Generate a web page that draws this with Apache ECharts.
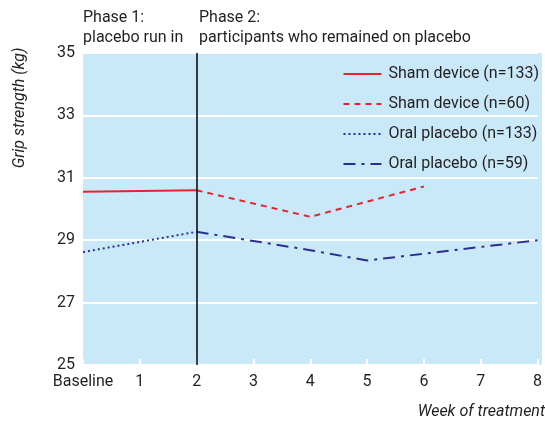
<!DOCTYPE html>
<html>
<head>
<meta charset="utf-8">
<script src="https://cdn.jsdelivr.net/npm/echarts@6/dist/echarts.min.js"></script>
<style>
  html, body { margin: 0; padding: 0; background: #fff; }
  #main { width: 545px; height: 424px; }
</style>
</head>
<body>
<div id="main"></div>
<script>
// weeks on the x axis
var weeks = ['Baseline', '1', '2', '3', '4', '5', '6', '7', '8'];
var shamAll = [30.55, null, 30.6, null, null, null, null, null, null];
var shamStay = [null, null, 30.6, null, 29.75, null, 30.72, null, null];
var oralAll = [28.62, null, 29.27, null, null, null, null, null, null];
var oralStay = [null, null, 29.27, null, 28.68, 28.35, null, null, 29.0];
var seriesNames = ['Sham device (n=133)', 'Sham device (n=60)', 'Oral placebo (n=133)', 'Oral placebo (n=59)'];

var font = 'Roboto, "DejaVu Sans Condensed", sans-serif';
var red = '#e6232b';
var blue = '#2b2f8f';
var ink = '#231f20';

var myChart = echarts.init(document.getElementById('main'));
var option = {
    animation: false,
    textStyle: { fontFamily: font },
    grid: { left: 83, right: 3, top: 53, bottom: 59 },
    graphic: [
        { type: 'rect', z: -10, shape: { x: 83, y: 53, width: 459, height: 312 }, style: { fill: '#c9e9f8' } },
        { type: 'text', left: 83, top: 8, style: { text: 'Phase 1:\nplacebo run in', font: '16px ' + font, fill: ink, lineHeight: 20 } },
        { type: 'text', left: 199, top: 8, style: { text: 'Phase 2:\nparticipants who remained on placebo', font: '16px ' + font, fill: ink, lineHeight: 20 } },
        { type: 'text', x: 20, y: 108, rotation: Math.PI / 2, style: { text: 'Grip strength (kg)', font: 'italic 16px ' + font, fill: ink, align: 'center', verticalAlign: 'middle' } },
        { type: 'text', right: 0, top: 404, style: { text: 'Week of treatment', font: 'italic 16px ' + font, fill: ink } }
    ],
    legend: {
        orient: 'vertical',
        right: 1,
        top: 61,
        itemWidth: 38,
        itemHeight: 16,
        itemGap: 14,
        itemStyle: { opacity: 0 },
        textStyle: { fontSize: 16, color: ink, fontFamily: font, padding: [0, 0, 0, 2] },
        data: seriesNames
    },
    xAxis: {
        type: 'category',
        boundaryGap: false,
        data: weeks,
        axisLine: { show: false },
        axisTick: { show: true, inside: true, interval: 0, length: 6, lineStyle: { color: '#fff', width: 2 } },
        axisLabel: { color: ink, fontSize: 16, margin: 9, interval: 0, fontFamily: font }
    },
    yAxis: {
        type: 'value',
        min: 25,
        max: 35,
        interval: 2,
        axisLine: { show: false },
        axisTick: { show: false },
        axisLabel: { color: ink, fontSize: 16, margin: 8, fontFamily: font },
        splitLine: { lineStyle: { color: '#fff', width: 2 } }
    },
    series: [
        {
            name: seriesNames[0], type: 'line', data: shamAll, connectNulls: true,
            showSymbol: false, symbol: 'none', color: red,
            lineStyle: { color: red, width: 2, type: 'solid' },
            markLine: {
                silent: true, symbol: 'none', label: { show: false },
                lineStyle: { color: '#000', width: 1.5, type: 'solid' },
                data: [{ xAxis: '2' }]
            }
        },
        {
            name: seriesNames[1], type: 'line', data: shamStay, connectNulls: true,
            showSymbol: false, symbol: 'none', color: red,
            lineStyle: { color: red, width: 2, type: [6, 5] }
        },
        {
            name: seriesNames[2], type: 'line', data: oralAll, connectNulls: true,
            showSymbol: false, symbol: 'none', color: blue,
            lineStyle: { color: blue, width: 2, type: [2, 3] }
        },
        {
            name: seriesNames[3], type: 'line', data: oralStay, connectNulls: true,
            showSymbol: false, symbol: 'none', color: blue,
            lineStyle: { color: blue, width: 2, type: [12, 6, 3, 6] }
        }
    ]
};
myChart.setOption(option);
</script>
</body>
</html>
